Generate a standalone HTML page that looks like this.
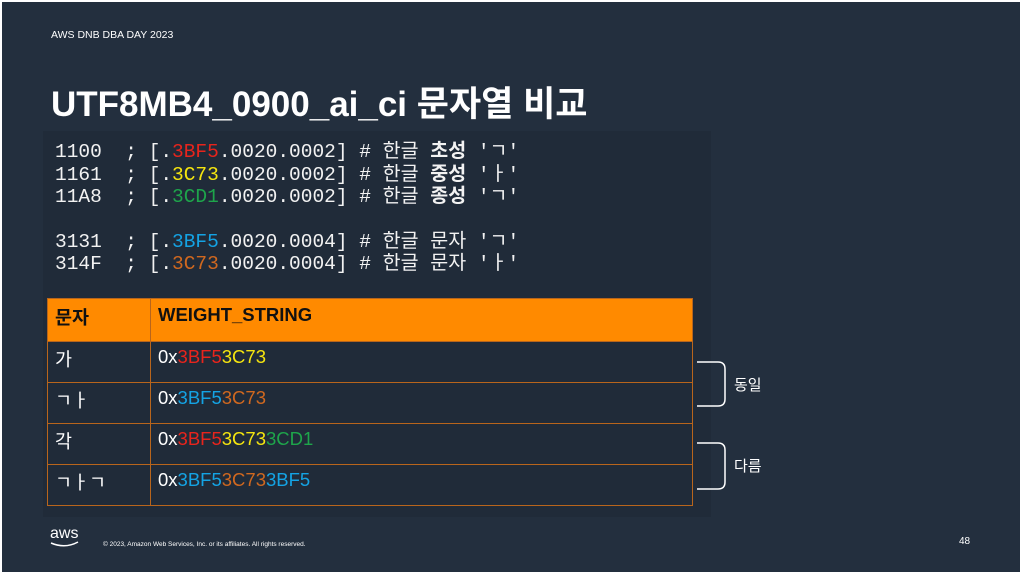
<!DOCTYPE html>
<html><head><meta charset="utf-8"><style>
body{margin:0;width:1022px;height:575px;background:#fff;overflow:hidden;font-family:"Liberation Sans","Noto Sans CJK KR",sans-serif;}
#s{position:absolute;left:2px;top:2px;width:1018px;height:570px;background:#232f3e;}
.a{position:absolute;color:#fff;white-space:nowrap;}
#panel{position:absolute;left:43px;top:131px;width:668px;height:386px;background:#202b39;}
.code{font-family:"Liberation Mono","Noto Sans CJK KR",monospace;font-size:19.5px;line-height:22.5px;color:#f2f2f2;}
.r{color:#e8241c}.y{color:#f5e50f}.g{color:#1ea54b}.b{color:#14a3e4}.o{color:#d0681f}
table{position:absolute;left:47px;top:298px;border-collapse:collapse;width:646px;}
td{border:1px solid #b8651c;height:41px;vertical-align:top;padding:4px 6px 0 7px;color:#fff;font-size:18.5px;box-sizing:border-box;}
tr.h td{background:#ff8a00;color:#111;font-weight:bold;height:43px;padding-top:5px;}
</style></head><body><div id="s"></div>
<div class="a" style="left:51px;top:29px;font-size:10.5px;">AWS DNB DBA DAY 2023</div>
<div class="a" style="left:51px;top:76px;font-size:35px;font-weight:bold;">UTF8MB4_0900_ai_ci 문자열 비교</div>
<div id="panel"></div>
<div class="a code" style="left:55px;top:141px;">1100&nbsp;&nbsp;; [.<span class="r">3BF5</span>.0020.0002] # 한글 <b>초성</b> 'ㄱ'<br>1161&nbsp;&nbsp;; [.<span class="y">3C73</span>.0020.0002] # 한글 <b>중성</b> 'ㅏ'<br>11A8&nbsp;&nbsp;; [.<span class="g">3CD1</span>.0020.0002] # 한글 <b>종성</b> 'ㄱ'<br><div style="height:22px"></div>3131&nbsp;&nbsp;; [.<span class="b">3BF5</span>.0020.0004] # 한글 문자 'ㄱ'<br>314F&nbsp;&nbsp;; [.<span class="o">3C73</span>.0020.0004] # 한글 문자 'ㅏ'</div>
<table>
<tr class="h"><td style="width:103px">문자</td><td>WEIGHT_STRING</td></tr>
<tr><td>가</td><td>0x<span class="r">3BF5</span><span class="y">3C73</span></td></tr>
<tr><td>ㄱㅏ</td><td>0x<span class="b">3BF5</span><span class="o">3C73</span></td></tr>
<tr><td>각</td><td>0x<span class="r">3BF5</span><span class="y">3C73</span><span class="g">3CD1</span></td></tr>
<tr><td>ㄱㅏㄱ</td><td>0x<span class="b">3BF5</span><span class="o">3C73</span><span class="b">3BF5</span></td></tr>
</table>
<svg style="position:absolute;left:0;top:0" width="1022" height="575">
<path d="M697 362 H718 Q725 362 725 369 V399 Q725 406 718 406 H697" fill="none" stroke="#fff" stroke-width="1.5"/>
<path d="M697 443 H718 Q725 443 725 450 V482 Q725 489 718 489 H697" fill="none" stroke="#fff" stroke-width="1.5"/>
<path d="M51 543 Q65 549 78 542" fill="none" stroke="#fff" stroke-width="1.5"/>
</svg>
<div class="a" style="left:50px;top:525px;font-size:16px;">aws</div>
<div class="a" style="left:734px;top:374px;font-size:15px;">동일</div>
<div class="a" style="left:734px;top:455px;font-size:15px;">다름</div>
<div class="a" style="left:103px;top:541px;font-size:6.5px;">© 2023, Amazon Web Services, Inc. or its affiliates. All rights reserved.</div>
<div class="a" style="left:959px;top:536px;font-size:10px;">48</div>
</body></html>
